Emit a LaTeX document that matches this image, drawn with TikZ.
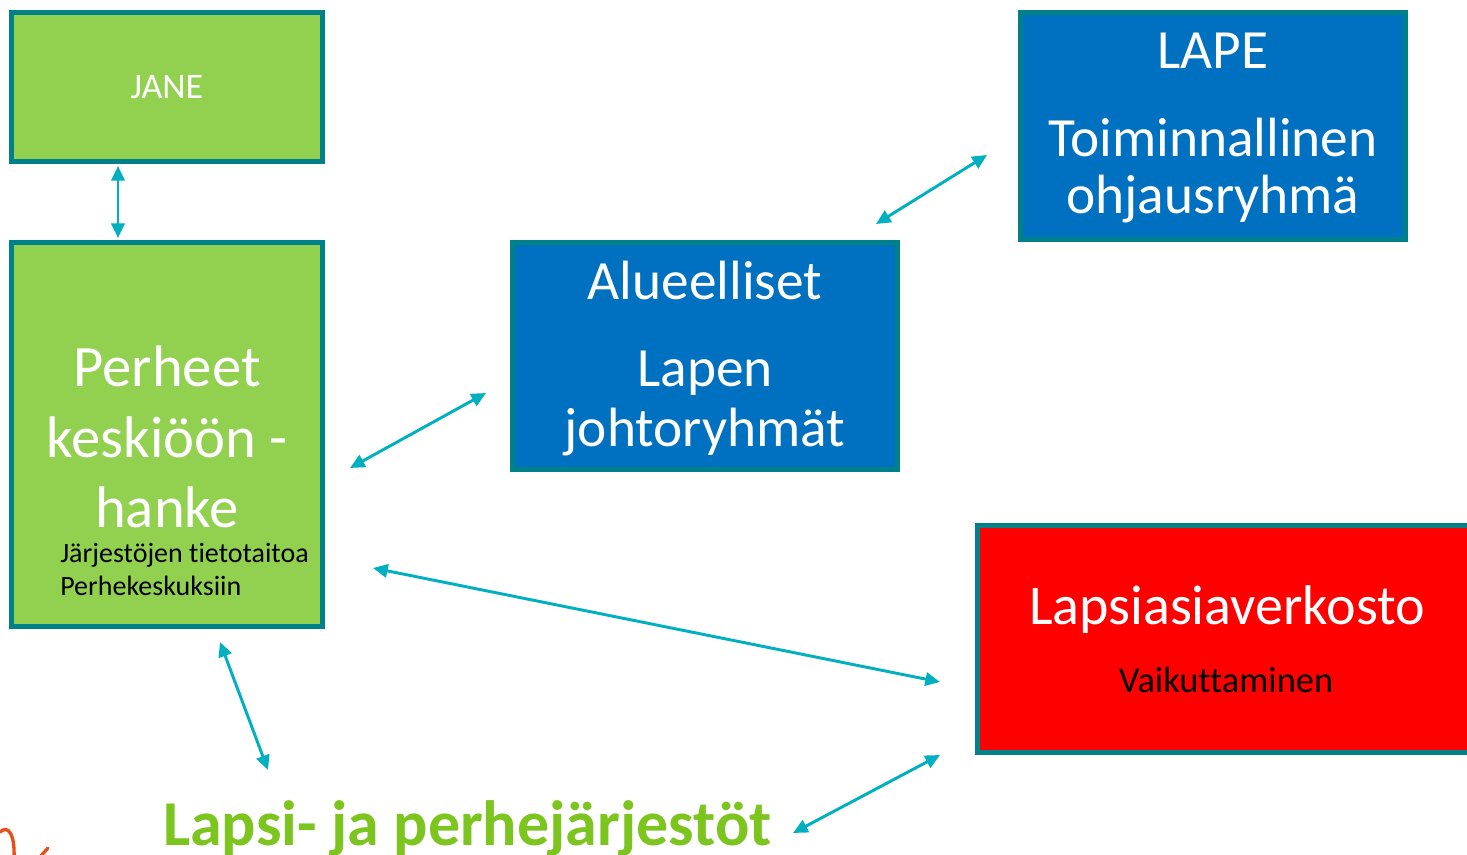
\documentclass[tikz,border=0pt]{standalone}
\usepackage{fontspec}
\setmainfont{Carlito}[Ligatures=NoCommon]
\usetikzlibrary{arrows.meta}
\definecolor{boxedge}{RGB}{0,128,136}
\definecolor{greenfill}{RGB}{146,208,80}
\definecolor{bluefill}{RGB}{0,112,192}
\definecolor{redfill}{RGB}{255,0,0}
\definecolor{arrowcol}{RGB}{0,176,192}
\definecolor{greentext}{RGB}{124,196,30}
\definecolor{squiggle}{RGB}{232,80,26}
\tikzset{
  box/.style={draw=boxedge, line width=3.9pt, inner sep=0pt},
  gbox/.style={box, fill=greenfill, minimum width=233.25pt},
  bbox/.style={box, fill=bluefill, minimum width=288.75pt, minimum height=170.25pt},
  wtext/.style={text=white, anchor=base, inner sep=0pt},
  btext/.style={text=black, anchor=base, inner sep=0pt},
  link/.style={draw=arrowcol, line width=2.2pt, {Triangle[length=11pt,width=10pt]}-{Triangle[length=11pt,width=10pt]}}
}
\begin{document}
\begin{tikzpicture}[x=0.75pt,y=-0.75pt]
\path[use as bounding box, fill=white] (0,0) rectangle (1467,855);
\begin{scope}
\clip (0,0) rectangle (1467,855);
% boxes
\node[gbox, minimum height=111.75pt] (jane) at (167,87) {};
\node[gbox, minimum height=288pt] (perheet) at (167,434.5) {};
\node[bbox] (alue) at (705,356) {};
\node[bbox] (lape) at (1213,126) {};
\node[box, fill=redfill, minimum width=375pt, minimum height=170.25pt] (lapsi) at (1227.5,639) {};

% texts
\node[wtext, font=\fontsize{27pt}{30pt}\selectfont] (tjane) at (167,99) {JANE};
\node[wtext, font=\fontsize{44pt}{50pt}\selectfont] (tp1) at (167,387) {Perheet};
\node[wtext, font=\fontsize{44pt}{50pt}\selectfont] (tp2) at (167,457) {keskiöön -};
\node[wtext, font=\fontsize{44pt}{50pt}\selectfont] (tp3) at (167,527) {hanke};
\node[btext, anchor=base west, font=\fontsize{21pt}{25pt}\selectfont] (ts1) at (60,562) {Järjestöjen tietotaitoa};
\node[btext, anchor=base west, font=\fontsize{21pt}{25pt}\selectfont] (ts2) at (60,595) {Perhekeskuksiin};

\node[wtext, font=\fontsize{41.5pt}{50pt}\selectfont] (ta1) at (705,300) {Alueelliset};
\node[wtext, font=\fontsize{41.5pt}{50pt}\selectfont] (ta2) at (705,387) {Lapen};
\node[wtext, font=\fontsize{41.5pt}{50pt}\selectfont] (ta3) at (705,446) {johtoryhmät};

\node[wtext, font=\fontsize{41.5pt}{50pt}\selectfont] (tl1) at (1213,69) {LAPE};
\node[wtext, font=\fontsize{41.5pt}{50pt}\selectfont] (tl2) at (1213,157) {Toiminnallinen};
\node[wtext, font=\fontsize{41.5pt}{50pt}\selectfont] (tl3) at (1213,214) {ohjausryhmä};

\node[wtext, font=\fontsize{42pt}{50pt}\selectfont] (tv1) at (1227,624) {Lapsiasiaverkosto};
\node[btext, font=\fontsize{27.3pt}{30pt}\selectfont] (tv2) at (1226,692) {Vaikuttaminen};

\node[anchor=base, inner sep=0pt, text=greentext, font=\fontsize{48pt}{55pt}\selectfont\bfseries] (jarj) at (467.5,845) {Lapsi- ja perhejärjestöt};

% arrows
\coordinate (a1s) at (118,166); \coordinate (a1e) at (118,238);
\coordinate (a2s) at (350,468); \coordinate (a2e) at (486,393);
\coordinate (a3s) at (876,224); \coordinate (a3e) at (987,155);
\coordinate (a4s) at (373,568); \coordinate (a4e) at (940,682);
\coordinate (a5s) at (220,642); \coordinate (a5e) at (268,770);
\coordinate (a6s) at (793,833); \coordinate (a6e) at (940,755);
\draw[link] (a1s) -- (a1e);
\draw[link] (a2s) -- (a2e);
\draw[link] (a3s) -- (a3e);
\draw[link] (a4s) -- (a4e);
\draw[link] (a5s) -- (a5e);
\draw[link] (a6s) -- (a6e);

% squiggle
\draw[squiggle, line width=2.5pt, line cap=round] (0,832) .. controls (9,824) and (15,836) .. (14,858);
\draw[squiggle, line width=2.5pt, line cap=round] (48,848) -- (39,858);
\end{scope}
\end{tikzpicture}
\end{document}
